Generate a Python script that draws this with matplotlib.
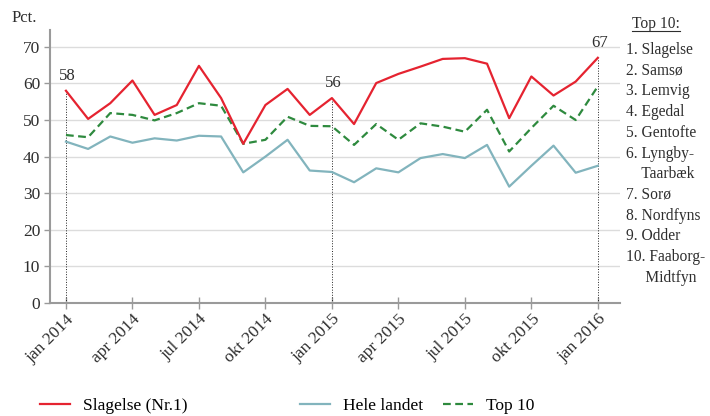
import matplotlib
matplotlib.use('Agg')
import matplotlib.pyplot as plt
from matplotlib.lines import Line2D

plt.rcParams['font.family'] = ['Liberation Serif', 'DejaVu Serif']

# monthly shares (pct.), jan 2014 .. jan 2016
months = list(range(25))
slagelse = [58, 50.3, 54.6, 60.8, 51.4, 54.1, 64.8, 56.0, 43.5, 54.1, 58.5, 51.4,
            56, 48.9, 60.1, 62.6, 64.6, 66.7, 66.9, 65.4, 50.5, 61.9, 56.7, 60.5, 67]
hele_landet = [44.1, 42.1, 45.5, 43.8, 45.0, 44.4, 45.7, 45.5, 35.7, 40.0, 44.6, 36.2,
               35.8, 33.0, 36.8, 35.7, 39.6, 40.7, 39.6, 43.2, 31.8, 37.5, 43.0, 35.6, 37.5]
top10 = [45.9, 45.3, 51.9, 51.4, 49.9, 51.9, 54.6, 53.9, 43.5, 44.6, 50.9, 48.4,
         48.3, 43.2, 48.9, 44.6, 49.1, 48.2, 46.8, 52.8, 41.4, 47.8, 53.9, 50.0, 59.2]

tick_pos = [0, 3, 6, 9, 12, 15, 18, 21, 24]
tick_labels = ['jan 2014', 'apr 2014', 'jul 2014', 'okt 2014', 'jan 2015',
               'apr 2015', 'jul 2015', 'okt 2015', 'jan 2016']
marked = [0, 12, 24]  # jan points with dotted drop lines

top_list = ['1. Slagelse', '2. Samsø', '3. Lemvig', '4. Egedal', '5. Gentofte',
            '6. Lyngby-', '    Taarbæk', '7. Sorø', '8. Nordfyns', '9. Odder',
            '10. Faaborg-', '     Midtfyn']

W, H = 710, 416
fig = plt.figure(figsize=(W / 100, H / 100), dpi=100)
ax = fig.add_axes([50 / W, 113 / H, 570 / W, 273 / H])

red = '#e52330'
teal = '#82b4bd'
green = '#2e8a3e'
txt = '#2e2e2e'

ax.yaxis.grid(True, color='#dcdcdc', lw=1)
ax.set_axisbelow(True)

l1, = ax.plot(months, slagelse, color=red, lw=1.6, label='Slagelse (Nr.1)', zorder=4)
l2, = ax.plot(months, hele_landet, color=teal, lw=1.6, label='Hele landet', zorder=3)
l3, = ax.plot(months, top10, color=green, lw=1.6, ls=(0, (3.5, 2)), label='Top 10', zorder=3)

for m in marked:
    ax.plot([m, m], [0, slagelse[m]], color='#222222', lw=0.7, ls=':', zorder=2)
    ax.annotate('%d' % round(slagelse[m]), (m, slagelse[m]), xytext=(1, 5),
                textcoords='offset points', ha='center', va='bottom', fontsize=12,
                color=txt)

ax.set_xlim(-0.72, 25.0)
ax.set_ylim(0, 74.6)
ax.set_yticks(range(0, 71, 10))
ax.set_xticks(tick_pos)
ax.set_xticklabels(tick_labels, rotation=45, ha='right', rotation_mode='anchor')

for s in ['top', 'right']:
    ax.spines[s].set_visible(False)
for s in ['left', 'bottom']:
    ax.spines[s].set_color('#9a9a9a')
    ax.spines[s].set_linewidth(1.5)

ax.tick_params(axis='y', length=4, width=1, color='#9a9a9a', labelsize=12.5,
               labelcolor=txt, pad=3)
ax.tick_params(axis='x', direction='inout', length=8, width=1, color='#9a9a9a',
               labelsize=12.5, labelcolor=txt, pad=2)

fig.text(12 / W, 1 - 18 / H, 'Pct.', fontsize=12, color=txt, va='center')

# right hand list
t = fig.text(632 / W, 1 - 24 / H, 'Top 10:', fontsize=11.2, color=txt, va='center')
for i, name in enumerate(top_list):
    fig.text(626 / W, 1 - (50 + i * 20.7) / H, name, fontsize=11.2, color=txt,
             va='center')

# legends
fig.legend(handles=[l1], loc='center left', bbox_to_anchor=(40 / W, 1 - 406 / H),
           frameon=False, fontsize=12.5, handlelength=1.7, handletextpad=0.75,
           borderpad=0, borderaxespad=0)
fig.legend(handles=[l2, l3], loc='center left', bbox_to_anchor=(300 / W, 1 - 406 / H),
           ncol=2, frameon=False, fontsize=12.5, handlelength=1.7, handletextpad=0.75,
           columnspacing=1.2, borderpad=0, borderaxespad=0)

# underline for the list title
fig.canvas.draw()
bb = t.get_window_extent().transformed(fig.transFigure.inverted())
fig.add_artist(Line2D([bb.x0, bb.x1], [bb.y0 + 1 / H, bb.y0 + 1 / H],
                      transform=fig.transFigure, color=txt, lw=0.8))

fig.savefig('out.png', dpi=100)
